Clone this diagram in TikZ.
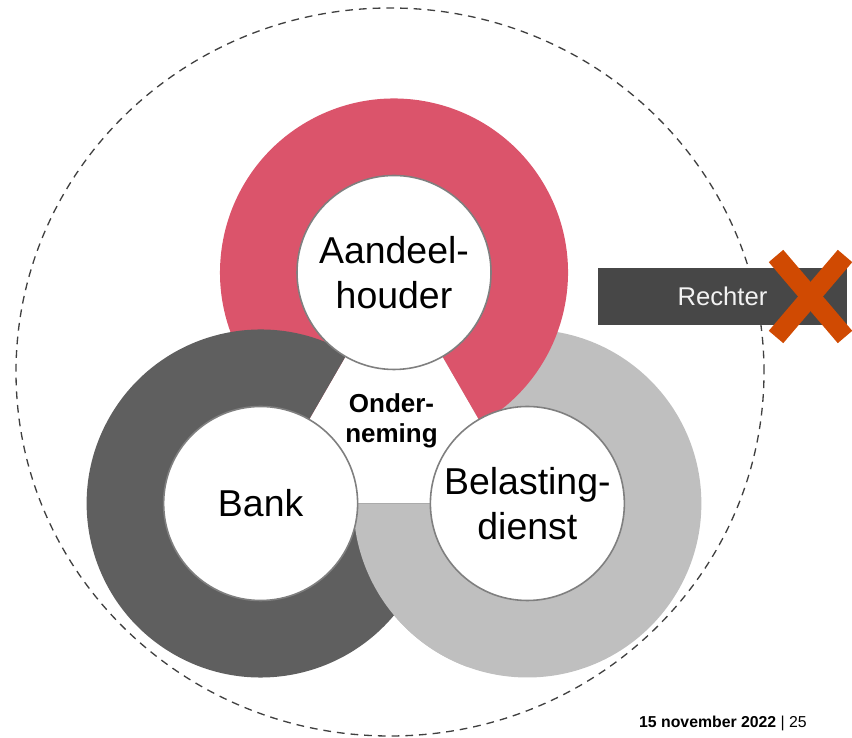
\documentclass[tikz,border=0pt]{standalone}
\usepackage{fontspec}
\setmainfont{Liberation Sans}
\usepackage{tikz}
\usepackage{xcolor}

\definecolor{ringred}{HTML}{DB546B}
\definecolor{ringdark}{HTML}{5F5F5F}
\definecolor{ringlight}{HTML}{BFBFBF}
\definecolor{rimgray}{HTML}{7F7F7F}
\definecolor{boxgray}{HTML}{474747}
\definecolor{crossorange}{HTML}{D04A02}

\tikzset{
  hub/.style={circle, fill=white, draw=rimgray, line width=0.9pt, minimum size=3.88cm,
    inner sep=0pt, align=center, font=\fontsize{21.3}{25.6}\selectfont},
  rechterbox/.style={fill=boxgray, minimum width=4.98cm, minimum height=1.14cm,
    text=white!95!black, font=\fontsize{14.6}{17}\selectfont}
}

\begin{document}
\begin{tikzpicture}[x=1cm,y=1cm]
    \useasboundingbox (0,0) rectangle (17.04,14.76);

    % outer boundary
    \draw[dash pattern=on 4.4pt off 3.4pt, line width=0.75pt, black!75]
        (7.80,7.32) ellipse [x radius=7.48, y radius=7.28];

    \begin{scope}[shift={(7.88,6.23)}]
        % rings: light, red, dark, then light again over the dark
        \begin{scope}[shift={(330:3.08)}]
            \fill[ringlight] (180:3.48) arc[start angle=180, end angle=480, radius=3.48]
                -- (480:1.94) arc[start angle=480, end angle=180, radius=1.94] -- cycle;
        \end{scope}
        \begin{scope}[shift={(90:3.08)}]
            \fill[ringred] (-60:3.48) arc[start angle=-60, end angle=240, radius=3.48]
                -- (240:1.94) arc[start angle=240, end angle=-60, radius=1.94] -- cycle;
        \end{scope}
        \begin{scope}[shift={(210:3.08)}]
            \fill[ringdark] (60:3.48) arc[start angle=60, end angle=360, radius=3.48]
                -- (360:1.94) arc[start angle=360, end angle=60, radius=1.94] -- cycle;
        \end{scope}
        \begin{scope}[shift={(330:3.08)}]
            \fill[ringlight] (180:3.48) arc[start angle=180, end angle=250, radius=3.48]
                -- (250:1.94) arc[start angle=250, end angle=180, radius=1.94] -- cycle;
        \end{scope}

        % parties
        \node[hub] (aandeelhouder) at (90:3.08) {Aandeel-\\houder};
        \node[hub] (bank) at (210:3.08) {Bank};
        \node[hub] (belasting) at (330:3.08) {Belasting-\\dienst};
        \node[align=center, font=\fontsize{14.8}{17}\selectfont\bfseries] (onderneming)
            at (-0.05,0.11) {Onder-\\neming};
    \end{scope}

    % judge, crossed out
    \node[rechterbox] (rechter) at (14.45,8.83) {Rechter};
    \draw[crossorange, line width=0.38cm] (15.52,9.64) -- (16.90,8.02);
    \draw[crossorange, line width=0.38cm] (16.90,9.64) -- (15.52,8.02);

    \node[anchor=base east, font=\fontsize{9}{11}\selectfont] (datum) at (16.26,0.20)
        {\textbf{15 november 2022} | 25};
\end{tikzpicture}
\end{document}
